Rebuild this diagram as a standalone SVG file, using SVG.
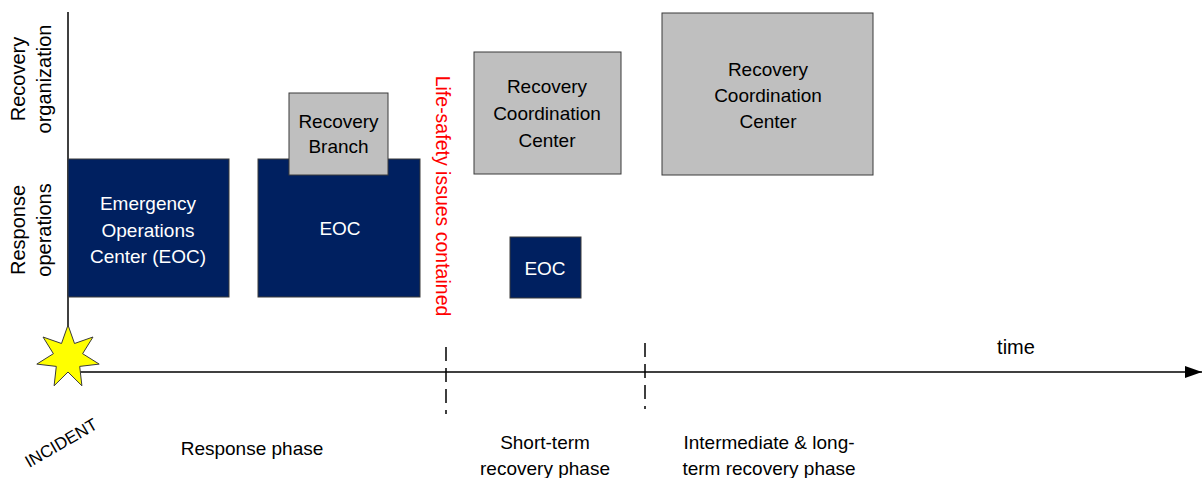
<svg xmlns="http://www.w3.org/2000/svg" width="1204" height="478" viewBox="0 0 1204 478">
<style>
text{font-family:"Liberation Sans",Arial,sans-serif;font-size:19px;fill:#000}
.navy{fill:#002060;stroke:#3a3a3a;stroke-width:1}
.gray{fill:#bfbfbf;stroke:#3a3a3a;stroke-width:1}
.w{fill:#fff}
.c{text-anchor:middle}
.ax{stroke:#000;stroke-width:1.5;fill:none}
.dash{stroke:#000;stroke-width:1.5;stroke-dasharray:14 7;fill:none}
</style>
<defs>
<marker id="arr" viewBox="0 0 17 12" refX="17" refY="6" markerWidth="17" markerHeight="12" markerUnits="userSpaceOnUse" orient="auto">
<path d="M0,0 L17,6 L0,12 z" fill="#000"/>
</marker>
</defs>
<rect width="1204" height="478" fill="#fff"/>

<g id="connectors">
<line class="ax" x1="68" y1="12" x2="68" y2="372"/>
<line class="ax" x1="68" y1="372" x2="1202" y2="372" marker-end="url(#arr)"/>
<line class="dash" x1="446" y1="347" x2="446" y2="414"/>
<line class="dash" x1="645" y1="343" x2="645" y2="409"/>
</g>

<g id="axis-labels">
<text class="c" font-size="20" transform="translate(25,79) rotate(-90)" style="font-size:20px">Recovery</text>
<text class="c" transform="translate(51,79) rotate(-90)" style="font-size:20px">organization</text>
<text class="c" transform="translate(25,230) rotate(-90)" style="font-size:20px">Response</text>
<text class="c" transform="translate(51,230) rotate(-90)" style="font-size:20px">operations</text>
<text class="c" x="1016" y="354" style="font-size:20px">time</text>
</g>

<g id="node-eoc1">
<rect class="navy" x="68" y="159" width="161" height="138"/>
<text class="c w" x="148" y="210">Emergency</text>
<text class="c w" x="148" y="237">Operations</text>
<text class="c w" x="148" y="263">Center (EOC)</text>
</g>

<g id="node-eoc2">
<rect class="navy" x="258" y="159" width="162" height="138"/>
<text class="c w" x="340" y="235">EOC</text>
</g>

<g id="node-recovery-branch">
<rect class="gray" x="289" y="93" width="99" height="82"/>
<text class="c" x="338.5" y="128">Recovery</text>
<text class="c" x="338.5" y="153">Branch</text>
</g>

<g id="node-life-safety">
<text class="c" transform="translate(436,196) rotate(90)" style="fill:#ff0000;font-size:19.5px">Life-safety issues contained</text>
</g>

<g id="node-rcc1">
<rect class="gray" x="474" y="52" width="147" height="122"/>
<text class="c" x="547" y="93">Recovery</text>
<text class="c" x="547" y="120">Coordination</text>
<text class="c" x="547" y="147">Center</text>
</g>

<g id="node-eoc3">
<rect class="navy" x="510" y="237" width="71" height="61"/>
<text class="c w" x="545" y="275">EOC</text>
</g>

<g id="node-rcc2">
<rect class="gray" x="662" y="13" width="211" height="162"/>
<text class="c" x="768" y="76">Recovery</text>
<text class="c" x="768" y="102">Coordination</text>
<text class="c" x="768" y="128">Center</text>
</g>

<g id="node-incident">
<polygon points="68,325 74.5,343.5 93,337 82.6,353.7 99.2,364.1 79.7,366.4 81.9,385.8 68,372 54.1,385.8 56.3,366.4 36.8,364.1 53.4,353.7 43,337 61.5,343.5" fill="#ffff00" stroke="#3a3a3a" stroke-width="1"/>
<text class="c" transform="translate(64,448) rotate(-30)" style="font-size:17px">INCIDENT</text>
</g>

<g id="phase-labels">
<text class="c" x="252" y="455">Response phase</text>
<text class="c" x="545" y="449">Short-term</text>
<text class="c" x="545" y="475">recovery phase</text>
<text class="c" x="769" y="449">Intermediate &amp; long-</text>
<text class="c" x="769" y="475">term recovery phase</text>
</g>
</svg>
